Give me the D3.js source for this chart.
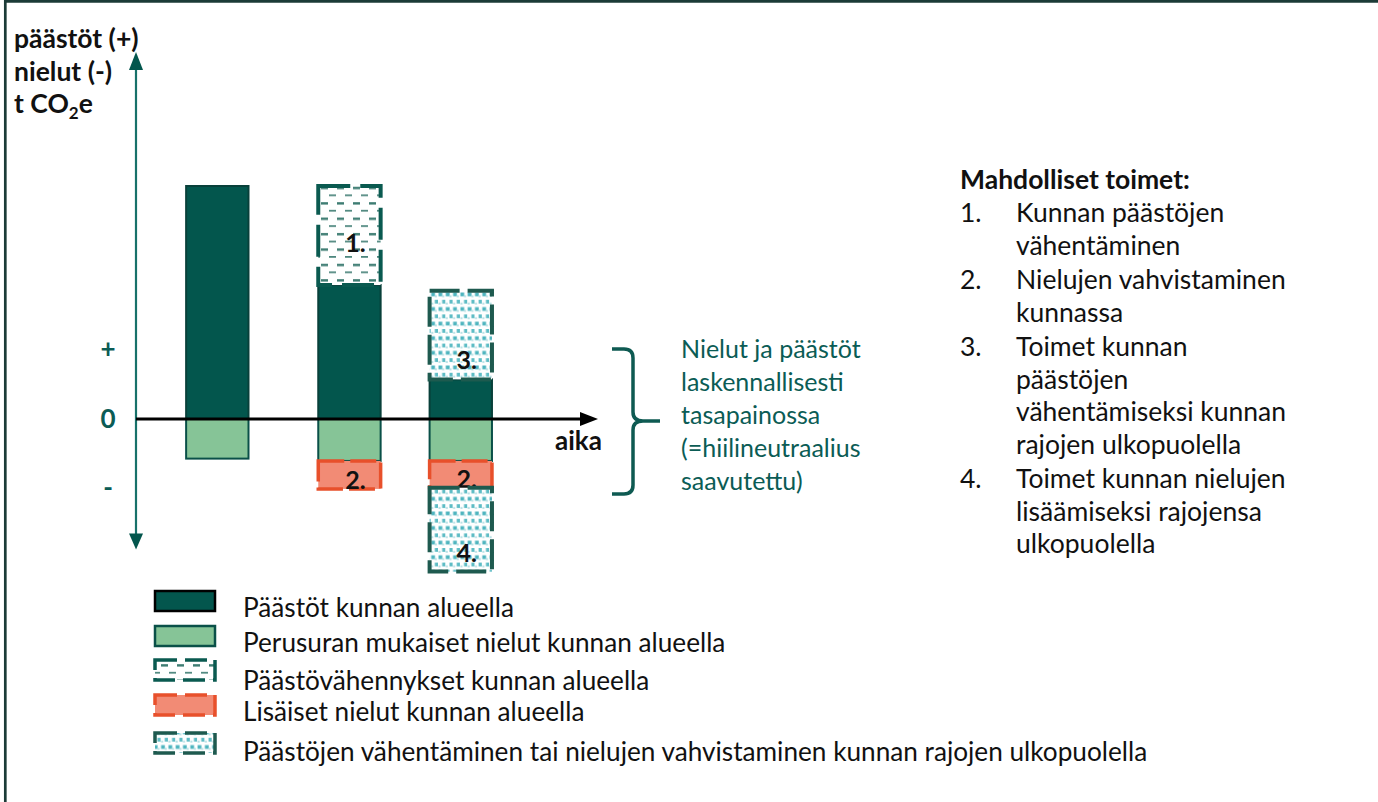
<!DOCTYPE html>
<html><head><meta charset="utf-8">
<script src="https://cdn.jsdelivr.net/npm/d3@7"></script>
<style>
html,body{margin:0;padding:0;background:#fff;}
svg{display:block;}
text{font-family:Lato,"Open Sans",sans-serif;}
</style></head>
<body>
<svg id="chart" width="1378" height="802"></svg>
<script>
// ---- data ----
const categories = ["Nyt", "Toimet kunnassa", "Toimet myös ulkopuolella"];
const times = [1.76, 4.62, 7.03];
const emissions = [10, 5.75, 1.7];
const baseSinks = [-1.7, -1.8, -1.8];
const reductions = [0, 4.25, 0];
const extraSinks = [0, -1.2, -1.15];
const outsideReductions = [0, 0, 3.8];
const outsideSinks = [0, 0, -3.6];
const segmentLabels = {reductions: "1.", extraSinks: "2.", outsideReductions: "3.", outsideSinks: "4."};
const yTickLabels = [{v: 3, t: "+"}, {v: 0, t: "0"}, {v: -3, t: "-"}];
const yTitle = ["päästöt (+)", "nielut (-)"];
const xTitle = "aika";
const braceText = ["Nielut ja päästöt", "laskennallisesti", "tasapainossa", "(=hiilineutraalius", "saavutettu)"];
const actionsTitle = "Mahdolliset toimet:";
const actions = [
  ["Kunnan päästöjen", "vähentäminen"],
  ["Nielujen vahvistaminen", "kunnassa"],
  ["Toimet kunnan", "päästöjen", "vähentämiseksi kunnan", "rajojen ulkopuolella"],
  ["Toimet kunnan nielujen", "lisäämiseksi rajojensa", "ulkopuolella"]
];
const legendItems = [
  {key: "emissions", label: "Päästöt kunnan alueella"},
  {key: "baseSinks", label: "Perusuran mukaiset nielut kunnan alueella"},
  {key: "reductions", label: "Päästövähennykset kunnan alueella"},
  {key: "extraSinks", label: "Lisäiset nielut kunnan alueella"},
  {key: "outsideReductions", label: "Päästöjen vähentäminen tai nielujen vahvistaminen kunnan rajojen ulkopuolella"}
];

const TEAL = "#03564d", DARKTEAL = "#0b5c55";
const svg = d3.select("#chart");
const defs = svg.append("defs");

// patterns
const pd = defs.append("pattern").attr("id", "dashPat").attr("patternUnits", "userSpaceOnUse")
  .attr("width", 16).attr("height", 15.4);
pd.append("rect").attr("width", 16).attr("height", 15.4).attr("fill", "#fff");
pd.append("rect").attr("x", 1).attr("y", 2).attr("width", 7).attr("height", 2.4).attr("fill", "#3d7c72");
pd.append("rect").attr("x", 9).attr("y", 9.7).attr("width", 7).attr("height", 1.6).attr("fill", "#3d7c72");

const pdot = defs.append("pattern").attr("id", "dotPat").attr("patternUnits", "userSpaceOnUse")
  .attr("width", 7.3).attr("height", 14.6);
pdot.append("rect").attr("width", 7.3).attr("height", 14.6).attr("fill", "#fff");
pdot.append("rect").attr("x", 0.5).attr("y", 0.5).attr("width", 3.8).attr("height", 3.8).attr("fill", "#4fb5bf");
pdot.append("rect").attr("x", 4.15).attr("y", 7.8).attr("width", 3.8).attr("height", 3.8).attr("fill", "#5dbcc5");
pdot.append("rect").attr("x", 4.15).attr("y", 3.3).attr("width", 2).attr("height", 2).attr("fill", "#b5e0e4");
pdot.append("rect").attr("x", 0.5).attr("y", 10.6).attr("width", 2).attr("height", 2).attr("fill", "#b5e0e4");

const styles = {
  emissions: {fill: TEAL, stroke: "#08403a", sw: 2, dash: null},
  baseSinks: {fill: "#86c497", stroke: "#0a5048", sw: 2, dash: null},
  reductions: {fill: "url(#dashPat)", stroke: "#0a5a50", sw: 4, dash: "32 10"},
  extraSinks: {fill: "#f28b75", stroke: "#e8502b", sw: 3.5, dash: "26 6"},
  outsideReductions: {fill: "url(#dotPat)", stroke: "#1e5a4f", sw: 4, dash: "30 8"},
  outsideSinks: {fill: "url(#dotPat)", stroke: "#1e5a4f", sw: 4, dash: "30 8"}
};

// border
svg.append("line").attr("x1", 4).attr("x2", 1378).attr("y1", 1.3).attr("y2", 1.3).attr("stroke", "#1c3b37").attr("stroke-width", 2.7);
svg.append("line").attr("x1", 5.3).attr("x2", 5.3).attr("y1", 0).attr("y2", 802).attr("stroke", "#1c3b37").attr("stroke-width", 2.7);

// scales
const y = d3.scaleLinear().domain([0, 10]).range([419, 186]);
const x = d3.scaleLinear().domain([0, 10]).range([136, 598]);
const barW = x(1.35) - x(0);

// stack
const keys = ["emissions", "baseSinks", "reductions", "extraSinks", "outsideReductions", "outsideSinks"];
const src = {emissions, baseSinks, reductions, extraSinks, outsideReductions, outsideSinks};
const rows = categories.map((c, i) => {
  const r = {cat: c, t: times[i]};
  keys.forEach(k => r[k] = src[k][i]);
  return r;
});
const stacked = d3.stack().keys(keys).offset(d3.stackOffsetDiverging)(rows);

// y axis arrow
const axisX = x(0);
svg.append("line").attr("x1", axisX).attr("x2", axisX).attr("y1", y(15.2)).attr("y2", y(-5.3))
  .attr("stroke", "#17716a").attr("stroke-width", 2.2);
const arrUp = y(15.75), arrDn = y(-5.6);
svg.append("path").attr("d", `M${axisX},${arrUp} L${axisX - 7},${arrUp + 18} L${axisX + 7},${arrUp + 18} Z`).attr("fill", TEAL);
svg.append("path").attr("d", `M${axisX},${arrDn} L${axisX - 7},${arrDn - 16} L${axisX + 7},${arrDn - 16} Z`).attr("fill", TEAL);

// y ticks
const tickDy = {"+": 8.5, "0": 9, "-": 7};
svg.selectAll(".ytick").data(yTickLabels).join("text")
  .attr("x", 108).attr("y", d => (d.t === "+" ? 349 : d.t === "-" ? 490 : y(d.v)) + tickDy[d.t])
  .attr("text-anchor", "middle").attr("font-weight", "bold")
  .attr("font-size", 26).attr("fill", DARKTEAL).text(d => d.t);

// y title
const yt = svg.append("text").attr("font-weight", "bold").attr("font-size", 26.5).attr("fill", "#111");
yTitle.forEach((t, i) => yt.append("tspan").attr("x", 14).attr("y", 48 + i * 33).text(t));
const co2 = svg.append("text").attr("x", 14).attr("y", 113).attr("font-weight", "bold").attr("font-size", 26.5).attr("fill", "#111");
co2.append("tspan").text("t CO");
co2.append("tspan").attr("font-size", 17).attr("dy", 6).text("2");
co2.append("tspan").attr("dy", -6).text("e");

// bars
stacked.forEach(series => {
  const st = styles[series.key];
  const g = svg.append("g");
  series.forEach(d => {
    const v = d.data[series.key];
    if (v === 0) return;
    const x0 = x(d.data.t) - barW / 2;
    const top = y(Math.max(d[0], d[1])), bot = y(Math.min(d[0], d[1]));
    g.append("rect").attr("x", x0).attr("y", top).attr("width", barW).attr("height", bot - top)
      .attr("fill", st.fill).attr("stroke", st.stroke).attr("stroke-width", st.sw)
      .attr("stroke-dasharray", st.dash);
    if (segmentLabels[series.key]) {
      let ly;
      if (series.key === "reductions") ly = (top + bot) / 2 + 16;
      else if (series.key === "extraSinks") ly = bot;
      else ly = bot - 10;
      g.append("text").attr("x", x(d.data.t) + 6).attr("y", ly)
        .attr("text-anchor", "middle").attr("font-weight", "bold").attr("font-size", 25)
        .attr("fill", "#111").text(segmentLabels[series.key]);
    }
  });
});

// x axis (time)
svg.append("line").attr("x1", axisX).attr("x2", x(9.65)).attr("y1", y(0)).attr("y2", y(0))
  .attr("stroke", "#000").attr("stroke-width", 3);
svg.append("path").attr("d", `M${x(10)},${y(0)} L${x(10) - 18},${y(0) - 7} L${x(10) - 18},${y(0) + 7} Z`).attr("fill", "#000");
svg.append("text").attr("x", 555).attr("y", 450).attr("font-weight", "bold").attr("font-size", 26)
  .attr("fill", "#111").text(xTitle);

// brace
const bx = 612, bTop = 349, bBot = 494, bMid = 421, bv = 633;
svg.append("path").attr("d",
  `M${bx},${bTop} L${bv - 9},${bTop} Q${bv},${bTop} ${bv},${bTop + 9} L${bv},${bMid - 9} Q${bv},${bMid} ${bv + 10},${bMid} L${660},${bMid} ` +
  `M${660},${bMid} L${bv + 10},${bMid} Q${bv},${bMid} ${bv},${bMid + 9} L${bv},${bBot - 9} Q${bv},${bBot} ${bv - 9},${bBot} L${bx},${bBot}`)
  .attr("fill", "none").attr("stroke", "#0e5a52").attr("stroke-width", 3.5);
const bt = svg.append("text").attr("font-size", 25).attr("fill", DARKTEAL);
braceText.forEach((t, i) => bt.append("tspan").attr("x", 681).attr("y", 358 + i * 33).text(t));

// actions list
svg.append("text").attr("x", 960).attr("y", 189).attr("font-weight", "bold").attr("font-size", 26.5)
  .attr("fill", "#111").text(actionsTitle);
let ly = 222;
actions.forEach((lines, i) => {
  svg.append("text").attr("x", 960).attr("y", ly).attr("font-size", 26.5).attr("fill", "#111").text((i + 1) + ".");
  lines.forEach((ln, j) => {
    svg.append("text").attr("x", 1016).attr("y", ly).attr("font-size", 26.5).attr("fill", "#111").text(ln);
    ly += (j < lines.length - 1) ? 32.5 : 34.5;
  });
});

// legend
const legY = [591, 626, 660, 695, 733];
const legTextY = [617, 652, 690, 721, 761];
legendItems.forEach((it, i) => {
  const st = styles[it.key];
  svg.append("rect").attr("x", 155).attr("y", legY[i]).attr("width", 60).attr("height", 20)
    .attr("fill", st.fill).attr("stroke", i === 0 ? "#000" : st.stroke)
    .attr("stroke-width", i === 0 ? 2.5 : (st.dash ? 3.5 : 2.5))
    .attr("stroke-dasharray", st.dash ? "22 8" : null);
  svg.append("text").attr("x", 243).attr("y", legTextY[i]).attr("font-size", 26.2).attr("fill", "#111").text(it.label);
});
</script>
</body></html>
